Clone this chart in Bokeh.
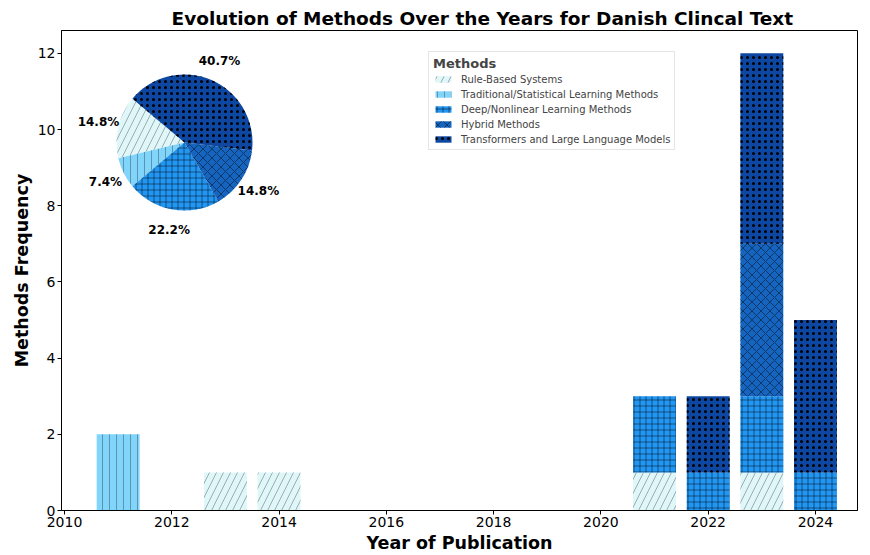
import numpy as np
from bokeh.plotting import figure
from bokeh.models import Range1d, ColumnDataSource, FixedTicker
from bokeh.core.properties import value
from bokeh.embed import file_html
from bokeh.resources import INLINE

# ---- data ----
years = [2011, 2013, 2014, 2021, 2022, 2023, 2024]
methods = ["Rule-Based Systems",
           "Traditional/Statistical Learning Methods",
           "Deep/Nonlinear Learning Methods",
           "Hybrid Methods",
           "Transformers and Large Language Models"]
rule_based = [0, 1, 1, 1, 0, 1, 0]
traditional = [2, 0, 0, 0, 0, 0, 0]
deep_learning = [0, 0, 0, 2, 1, 2, 1]
hybrid = [0, 0, 0, 0, 0, 4, 0]
transformers = [0, 0, 0, 0, 2, 5, 4]
x_ticks = [2010, 2012, 2014, 2016, 2018, 2020, 2022, 2024]
y_ticks = [0, 2, 4, 6, 8, 10, 12]

# ---- styles ----
colors = ["#E0F7FA", "#81D4FA", "#2196F3", "#1565C0", "#0D47A1"]
hatches = ["/", "|", "+", "x", "."]
hatch_alphas = [0.3, 0.3, 0.45, 0.45, 1.0]
hatch_scales = [14, 7, 6, 9, 6]
hatch_weights = [1, 1, 1, 1, 3]

FONT = "DejaVu Sans"
FW, FH = 796, 480
PX_PER_YEAR = 53.64

keys = ["rule", "trad", "deep", "hybrid", "trans"]
source = ColumnDataSource(dict(year=years, rule=rule_based, trad=traditional,
                               deep=deep_learning, hybrid=hybrid, trans=transformers))

p = figure(frame_width=FW, frame_height=FH,
           x_range=Range1d(2009.944, 2009.944 + FW / PX_PER_YEAR),
           y_range=Range1d(0, 12.6),
           output_backend="svg", toolbar_location=None,
           min_border_left=61, min_border_right=1, min_border_top=30, min_border_bottom=10,
           background_fill_color="white", border_fill_color="white")

p.vbar_stack(keys, x="year", width=0.8, source=source,
             fill_color=colors, line_color=None,
             hatch_pattern=hatches, hatch_color=["black"] * 5,
             hatch_alpha=hatch_alphas, hatch_scale=hatch_scales,
             hatch_weight=hatch_weights, legend_label=methods)

# ---- pie inset ----
p.extra_x_ranges = {"inset": Range1d(0, FW)}
p.extra_y_ranges = {"inset": Range1d(0, FH)}
totals = np.array([sum(rule_based), sum(traditional), sum(deep_learning),
                   sum(hybrid), sum(transformers)], dtype=float)
frac = totals / totals.sum()
start0 = np.deg2rad(140)
ends = start0 + np.cumsum(frac) * 2 * np.pi
starts = ends - frac * 2 * np.pi
cx, cy, R = 123, FH - 112, 68
pie_src = ColumnDataSource(dict(start=starts, end=ends, color=colors, hatch=hatches,
                                ha=hatch_alphas, hs=hatch_scales, hw=hatch_weights,
                                x=[cx] * 5, y=[cy] * 5))
p.wedge(x="x", y="y", radius=R, radius_units="screen", start_angle="start", end_angle="end",
        fill_color="color", line_color=None, hatch_pattern="hatch", hatch_color="black",
        hatch_alpha="ha", hatch_scale="hs", hatch_weight="hw",
        source=pie_src, x_range_name="inset", y_range_name="inset")
mid = (starts + ends) / 2
lr = 1.3 * R
lab_src = ColumnDataSource(dict(x=cx + lr * np.cos(mid), y=cy + lr * np.sin(mid),
                                t=["%.1f%%" % (f * 100) for f in frac]))
p.text(x="x", y="y", text="t", source=lab_src, x_range_name="inset", y_range_name="inset",
       text_font=value(FONT), text_font_style="bold", text_font_size="12px",
       text_align="center", text_baseline="middle", text_color="black")

# ---- title ----
p.title.text = "Evolution of Methods Over the Years for Danish Clincal Text"
p.title.align = "left"
p.title.offset = 110
p.title.text_font = FONT
p.title.text_font_size = "18.5px"
p.title.text_font_style = "bold"
p.title.text_color = "black"
p.title.standoff = 3

# ---- axes ----
p.xgrid.visible = False
p.ygrid.visible = False
p.outline_line_color = "black"
p.outline_line_width = 1
p.xaxis.ticker = FixedTicker(ticks=x_ticks)
p.yaxis.ticker = FixedTicker(ticks=y_ticks)
for ax in (p.xaxis[0], p.yaxis[0]):
    ax.major_label_text_font = FONT
    ax.major_label_text_font_size = "14px"
    ax.major_label_text_color = "black"
    ax.axis_label_text_font = FONT
    ax.axis_label_text_font_size = "17.5px"
    ax.axis_label_text_font_style = "bold"
    ax.axis_label_text_color = "black"
    ax.major_tick_out = 4
    ax.major_tick_in = 0
    ax.minor_tick_out = 0
    ax.minor_tick_in = 0
    ax.axis_line_color = "black"
    ax.major_tick_line_color = "black"
    ax.major_label_standoff = 2
    ax.axis_label_standoff = 3
p.xaxis.axis_label = "Year of Publication"
p.yaxis.axis_label = "Methods Frequency"

# ---- legend ----
lg = p.legend[0]
lg.title = "Methods"
lg.title_text_font = FONT
lg.title_text_font_style = "bold"
lg.title_text_font_size = "13px"
lg.title_standoff = 2
lg.label_text_font = FONT
lg.label_text_font_size = "10px"
lg.label_height = 12
lg.label_standoff = 8
lg.glyph_width = 20
lg.glyph_height = 8
lg.spacing = 3
lg.padding = 4
lg.margin = 0
lg.border_line_color = "#cccccc"
lg.border_line_width = 1
lg.background_fill_alpha = 0.8
lg.location = (367, 360)

open("out.html", "w").write(file_html(p, INLINE))
